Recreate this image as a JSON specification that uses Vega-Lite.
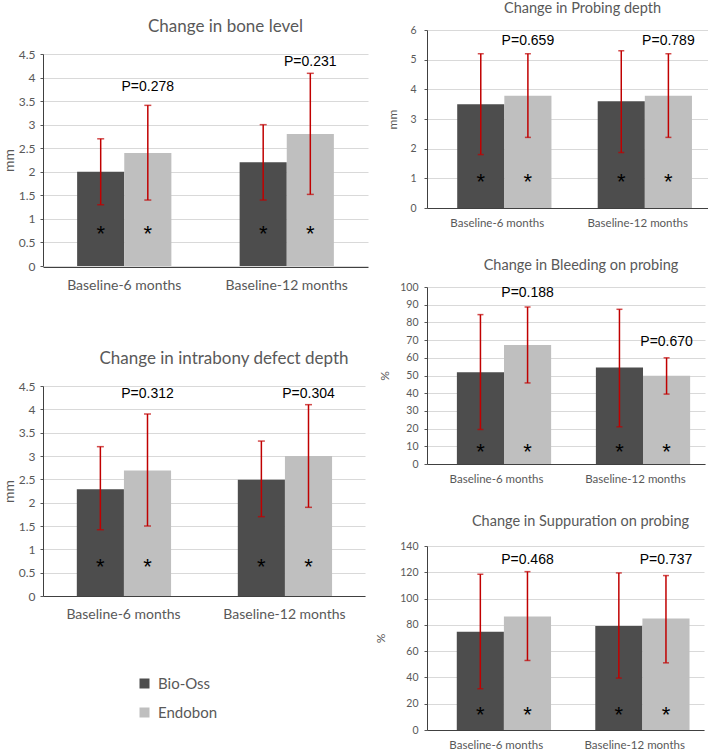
{
  "$schema": "https://vega.github.io/schema/vega-lite/v6.json",
  "padding": {"left": 2, "top": 1, "right": 0, "bottom": 0},
  "background": "white",
  "config": {
    "view": {"stroke": null},
    "font": "Lato",
    "title": {"font": "Lato", "fontWeight": "normal", "color": "#595959", "anchor": "middle"},
    "axis": {"labelFont": "Lato", "titleFont": "Lato", "labelColor": "#595959", "titleColor": "#595959", "titleFontWeight": "normal", "gridColor": "#d9d9d9", "domainColor": "#404040", "tickColor": "#595959"},
    "legend": {"labelFont": "Lato", "labelColor": "#595959"}
  },
  "datasets": {
    "bone": [
      {"period": "Baseline-6 months", "group": "Bio-Oss", "mean": 2.0, "lo": 1.3, "hi": 2.7, "star": 0.8, "sig": "*", "p": null, "py": null},
      {"period": "Baseline-6 months", "group": "Endobon", "mean": 2.4, "lo": 1.4, "hi": 3.41, "star": 0.8, "sig": "*", "p": "P=0.278", "py": 3.8},
      {"period": "Baseline-12 months", "group": "Bio-Oss", "mean": 2.2, "lo": 1.4, "hi": 3.0, "star": 0.8, "sig": "*", "p": null, "py": null},
      {"period": "Baseline-12 months", "group": "Endobon", "mean": 2.8, "lo": 1.52, "hi": 4.09, "star": 0.8, "sig": "*", "p": "P=0.231", "py": 4.33}
    ],
    "intra": [
      {"period": "Baseline-6 months", "group": "Bio-Oss", "mean": 2.29, "lo": 1.42, "hi": 3.2, "star": 0.75, "sig": "*", "p": null, "py": null},
      {"period": "Baseline-6 months", "group": "Endobon", "mean": 2.69, "lo": 1.5, "hi": 3.9, "star": 0.75, "sig": "*", "p": "P=0.312", "py": 4.33},
      {"period": "Baseline-12 months", "group": "Bio-Oss", "mean": 2.49, "lo": 1.7, "hi": 3.32, "star": 0.75, "sig": "*", "p": null, "py": null},
      {"period": "Baseline-12 months", "group": "Endobon", "mean": 3.0, "lo": 1.9, "hi": 4.1, "star": 0.75, "sig": "*", "p": "P=0.304", "py": 4.33}
    ],
    "probe": [
      {"period": "Baseline-6 months", "group": "Bio-Oss", "mean": 3.5, "lo": 1.8, "hi": 5.2, "star": 1.08, "sig": "*", "p": null, "py": null},
      {"period": "Baseline-6 months", "group": "Endobon", "mean": 3.78, "lo": 2.38, "hi": 5.2, "star": 1.08, "sig": "*", "p": "P=0.659", "py": 5.63},
      {"period": "Baseline-12 months", "group": "Bio-Oss", "mean": 3.6, "lo": 1.87, "hi": 5.3, "star": 1.08, "sig": "*", "p": null, "py": null},
      {"period": "Baseline-12 months", "group": "Endobon", "mean": 3.78, "lo": 2.38, "hi": 5.2, "star": 1.08, "sig": "*", "p": "P=0.789", "py": 5.63}
    ],
    "bleed": [
      {"period": "Baseline-6 months", "group": "Bio-Oss", "mean": 51.8, "lo": 19.5, "hi": 84.4, "star": 10.2, "sig": "*", "p": null, "py": null},
      {"period": "Baseline-6 months", "group": "Endobon", "mean": 67.2, "lo": 45.8, "hi": 88.7, "star": 10.2, "sig": "*", "p": "P=0.188", "py": 96.6},
      {"period": "Baseline-12 months", "group": "Bio-Oss", "mean": 54.5, "lo": 21.0, "hi": 87.4, "star": 10.2, "sig": "*", "p": null, "py": null},
      {"period": "Baseline-12 months", "group": "Endobon", "mean": 49.8, "lo": 39.5, "hi": 60.0, "star": 10.2, "sig": "*", "p": "P=0.670", "py": 68.9}
    ],
    "supp": [
      {"period": "Baseline-6 months", "group": "Bio-Oss", "mean": 74.7, "lo": 31.4, "hi": 118.5, "star": 16, "sig": "*", "p": null, "py": null},
      {"period": "Baseline-6 months", "group": "Endobon", "mean": 86.3, "lo": 52.9, "hi": 120.5, "star": 16, "sig": "*", "p": "P=0.468", "py": 129},
      {"period": "Baseline-12 months", "group": "Bio-Oss", "mean": 79.2, "lo": 39.5, "hi": 119.5, "star": 16, "sig": "*", "p": null, "py": null},
      {"period": "Baseline-12 months", "group": "Endobon", "mean": 84.8, "lo": 51.1, "hi": 117.5, "star": 16, "sig": "*", "p": "P=0.737", "py": 129}
    ]
  },
  "spacing": 6,
  "align": "none",
  "hconcat": [
    {
      "spacing": 58,
      "vconcat": [
        {
          "data": {"name": "bone"},
          "width": 325, "height": 237,
          "title": {"text": "Change in bone level", "fontSize": 17, "offset": 0, "dy": 6, "dx": 20},
          "encoding": {
            "x": {"field": "period", "type": "nominal", "sort": ["Baseline-6 months", "Baseline-12 months"], "scale": {"paddingInner": 0.42, "paddingOuter": 0.21}, "axis": {"title": null, "labelAngle": 0, "labelFontSize": 14, "ticks": false, "labelPadding": 11}},
            "xOffset": {"field": "group", "sort": ["Bio-Oss", "Endobon"], "scale": {"paddingInner": 0, "paddingOuter": 0}}
          },
          "layer": [
            {"mark": {"type": "bar"}, "encoding": {
              "y": {"field": "mean", "type": "quantitative", "title": "mm", "scale": {"domain": [0, 4.5], "range": [236, 24]}, "axis": {"values": [0, 0.5, 1, 1.5, 2, 2.5, 3, 3.5, 4, 4.5], "format": ".1~f", "labelFontSize": 12, "titleFontSize": 14, "tickSize": 3, "labelPadding": 5, "titlePadding": 2}},
              "color": {"field": "group", "type": "nominal", "scale": {"domain": ["Bio-Oss", "Endobon"], "range": ["#4d4d4d", "#bfbfbf"]}, "legend": {"title": null, "orient": "none", "legendX": 94, "legendY": 646, "symbolType": "square", "symbolSize": 100, "symbolStrokeWidth": 0, "labelFontSize": 15, "rowPadding": 13, "labelOffset": 6}}
            }},
            {"mark": {"type": "rule", "color": "#c00000", "strokeWidth": 1.5}, "encoding": {"y": {"field": "lo", "type": "quantitative", "title": "mm", "axis": {"values": [0, 0.5, 1, 1.5, 2, 2.5, 3, 3.5, 4, 4.5], "format": ".1~f", "labelFontSize": 12, "titleFontSize": 14, "tickSize": 3, "labelPadding": 5, "titlePadding": 2}}, "y2": {"field": "hi"}}},
            {"mark": {"type": "tick", "color": "#c00000", "thickness": 1.5, "size": 7}, "encoding": {"y": {"field": "lo", "type": "quantitative", "title": "mm", "axis": {"values": [0, 0.5, 1, 1.5, 2, 2.5, 3, 3.5, 4, 4.5], "format": ".1~f", "labelFontSize": 12, "titleFontSize": 14, "tickSize": 3, "labelPadding": 5, "titlePadding": 2}}}},
            {"mark": {"type": "tick", "color": "#c00000", "thickness": 1.5, "size": 7}, "encoding": {"y": {"field": "hi", "type": "quantitative", "title": "mm", "axis": {"values": [0, 0.5, 1, 1.5, 2, 2.5, 3, 3.5, 4, 4.5], "format": ".1~f", "labelFontSize": 12, "titleFontSize": 14, "tickSize": 3, "labelPadding": 5, "titlePadding": 2}}}},
            {"mark": {"type": "text", "font": "Liberation Sans", "fontSize": 22, "color": "black", "baseline": "middle", "dy": 6}, "encoding": {"y": {"field": "star", "type": "quantitative", "title": "mm", "axis": {"values": [0, 0.5, 1, 1.5, 2, 2.5, 3, 3.5, 4, 4.5], "format": ".1~f", "labelFontSize": 12, "titleFontSize": 14, "tickSize": 3, "labelPadding": 5, "titlePadding": 2}}, "text": {"field": "sig"}}},
            {"transform": [{"filter": "datum.p != null"}], "mark": {"type": "text", "font": "Liberation Sans", "fontSize": 14, "color": "black", "baseline": "middle"}, "encoding": {"y": {"field": "py", "type": "quantitative", "title": "mm", "axis": {"values": [0, 0.5, 1, 1.5, 2, 2.5, 3, 3.5, 4, 4.5], "format": ".1~f", "labelFontSize": 12, "titleFontSize": 14, "tickSize": 3, "labelPadding": 5, "titlePadding": 2}}, "text": {"field": "p"}}}
          ]
        },
        {
          "data": {"name": "intra"},
          "width": 322, "height": 210,
          "title": {"text": "Change in intrabony defect depth", "fontSize": 17, "offset": 12, "dx": 20},
          "encoding": {
            "x": {"field": "period", "type": "nominal", "sort": ["Baseline-6 months", "Baseline-12 months"], "scale": {"paddingInner": 0.42, "paddingOuter": 0.21}, "axis": {"title": null, "labelAngle": 0, "labelFontSize": 14, "ticks": false, "labelPadding": 11}},
            "xOffset": {"field": "group", "sort": ["Bio-Oss", "Endobon"], "scale": {"paddingInner": 0, "paddingOuter": 0}}
          },
          "layer": [
            {"mark": {"type": "bar"}, "encoding": {
              "y": {"field": "mean", "type": "quantitative", "title": "mm", "scale": {"domain": [0, 4.5]}, "axis": {"values": [0, 0.5, 1, 1.5, 2, 2.5, 3, 3.5, 4, 4.5], "format": ".1~f", "labelFontSize": 12, "titleFontSize": 14, "tickSize": 3, "labelPadding": 5, "titlePadding": 2}},
              "color": {"field": "group", "type": "nominal", "scale": {"domain": ["Bio-Oss", "Endobon"], "range": ["#4d4d4d", "#bfbfbf"]}}
            }},
            {"mark": {"type": "rule", "color": "#c00000", "strokeWidth": 1.5}, "encoding": {"y": {"field": "lo", "type": "quantitative", "title": "mm", "axis": {"values": [0, 0.5, 1, 1.5, 2, 2.5, 3, 3.5, 4, 4.5], "format": ".1~f", "labelFontSize": 12, "titleFontSize": 14, "tickSize": 3, "labelPadding": 5, "titlePadding": 2}}, "y2": {"field": "hi"}}},
            {"mark": {"type": "tick", "color": "#c00000", "thickness": 1.5, "size": 7}, "encoding": {"y": {"field": "lo", "type": "quantitative", "title": "mm", "axis": {"values": [0, 0.5, 1, 1.5, 2, 2.5, 3, 3.5, 4, 4.5], "format": ".1~f", "labelFontSize": 12, "titleFontSize": 14, "tickSize": 3, "labelPadding": 5, "titlePadding": 2}}}},
            {"mark": {"type": "tick", "color": "#c00000", "thickness": 1.5, "size": 7}, "encoding": {"y": {"field": "hi", "type": "quantitative", "title": "mm", "axis": {"values": [0, 0.5, 1, 1.5, 2, 2.5, 3, 3.5, 4, 4.5], "format": ".1~f", "labelFontSize": 12, "titleFontSize": 14, "tickSize": 3, "labelPadding": 5, "titlePadding": 2}}}},
            {"mark": {"type": "text", "font": "Liberation Sans", "fontSize": 22, "color": "black", "baseline": "middle", "dy": 6}, "encoding": {"y": {"field": "star", "type": "quantitative", "title": "mm", "axis": {"values": [0, 0.5, 1, 1.5, 2, 2.5, 3, 3.5, 4, 4.5], "format": ".1~f", "labelFontSize": 12, "titleFontSize": 14, "tickSize": 3, "labelPadding": 5, "titlePadding": 2}}, "text": {"field": "sig"}}},
            {"transform": [{"filter": "datum.p != null"}], "mark": {"type": "text", "font": "Liberation Sans", "fontSize": 14, "color": "black", "baseline": "middle"}, "encoding": {"y": {"field": "py", "type": "quantitative", "title": "mm", "axis": {"values": [0, 0.5, 1, 1.5, 2, 2.5, 3, 3.5, 4, 4.5], "format": ".1~f", "labelFontSize": 12, "titleFontSize": 14, "tickSize": 3, "labelPadding": 5, "titlePadding": 2}}, "text": {"field": "p"}}}
          ]
        }
      ]
    },
    {
      "spacing": 29,
      "vconcat": [
        {
          "data": {"name": "probe"},
          "width": 281, "height": 178,
          "title": {"text": "Change in Probing depth", "fontSize": 14.5, "offset": 8.5, "dx": 15},
          "encoding": {
            "x": {"field": "period", "type": "nominal", "sort": ["Baseline-6 months", "Baseline-12 months"], "scale": {"paddingInner": 0.43, "paddingOuter": 0.215}, "axis": {"title": null, "labelAngle": 0, "labelFontSize": 11.5, "ticks": false, "labelPadding": 9}},
            "xOffset": {"field": "group", "sort": ["Bio-Oss", "Endobon"], "scale": {"paddingInner": 0, "paddingOuter": 0}}
          },
          "layer": [
            {"mark": {"type": "bar"}, "encoding": {
              "y": {"field": "mean", "type": "quantitative", "title": "mm", "scale": {"domain": [0, 6]}, "axis": {"values": [0, 1, 2, 3, 4, 5, 6], "format": ".1~f", "labelFontSize": 10.5, "titleFontSize": 12, "tickSize": 3, "labelPadding": 8, "titlePadding": 10}},
              "color": {"field": "group", "type": "nominal", "scale": {"domain": ["Bio-Oss", "Endobon"], "range": ["#4d4d4d", "#bfbfbf"]}}
            }},
            {"mark": {"type": "rule", "color": "#c00000", "strokeWidth": 1.5}, "encoding": {"y": {"field": "lo", "type": "quantitative", "title": "mm", "axis": {"values": [0, 1, 2, 3, 4, 5, 6], "format": ".1~f", "labelFontSize": 10.5, "titleFontSize": 12, "tickSize": 3, "labelPadding": 8, "titlePadding": 10}}, "y2": {"field": "hi"}}},
            {"mark": {"type": "tick", "color": "#c00000", "thickness": 1.5, "size": 6}, "encoding": {"y": {"field": "lo", "type": "quantitative", "title": "mm", "axis": {"values": [0, 1, 2, 3, 4, 5, 6], "format": ".1~f", "labelFontSize": 10.5, "titleFontSize": 12, "tickSize": 3, "labelPadding": 8, "titlePadding": 10}}}},
            {"mark": {"type": "tick", "color": "#c00000", "thickness": 1.5, "size": 6}, "encoding": {"y": {"field": "hi", "type": "quantitative", "title": "mm", "axis": {"values": [0, 1, 2, 3, 4, 5, 6], "format": ".1~f", "labelFontSize": 10.5, "titleFontSize": 12, "tickSize": 3, "labelPadding": 8, "titlePadding": 10}}}},
            {"mark": {"type": "text", "font": "Liberation Sans", "fontSize": 22, "color": "black", "baseline": "middle", "dy": 6}, "encoding": {"y": {"field": "star", "type": "quantitative", "title": "mm", "axis": {"values": [0, 1, 2, 3, 4, 5, 6], "format": ".1~f", "labelFontSize": 10.5, "titleFontSize": 12, "tickSize": 3, "labelPadding": 8, "titlePadding": 10}}, "text": {"field": "sig"}}},
            {"transform": [{"filter": "datum.p != null"}], "mark": {"type": "text", "font": "Liberation Sans", "fontSize": 14, "color": "black", "baseline": "middle"}, "encoding": {"y": {"field": "py", "type": "quantitative", "title": "mm", "axis": {"values": [0, 1, 2, 3, 4, 5, 6], "format": ".1~f", "labelFontSize": 10.5, "titleFontSize": 12, "tickSize": 3, "labelPadding": 8, "titlePadding": 10}}, "text": {"field": "p"}}}
          ]
        },
        {
          "data": {"name": "bleed"},
          "width": 278, "height": 177,
          "title": {"text": "Change in Bleeding on probing", "fontSize": 14.5, "offset": 8.5, "dx": 15},
          "encoding": {
            "x": {"field": "period", "type": "nominal", "sort": ["Baseline-6 months", "Baseline-12 months"], "scale": {"paddingInner": 0.43, "paddingOuter": 0.215}, "axis": {"title": null, "labelAngle": 0, "labelFontSize": 11.5, "ticks": false, "labelPadding": 9}},
            "xOffset": {"field": "group", "sort": ["Bio-Oss", "Endobon"], "scale": {"paddingInner": 0, "paddingOuter": 0}}
          },
          "layer": [
            {"mark": {"type": "bar"}, "encoding": {
              "y": {"field": "mean", "type": "quantitative", "title": "%", "scale": {"domain": [0, 100]}, "axis": {"values": [0, 10, 20, 30, 40, 50, 60, 70, 80, 90, 100], "format": ".1~f", "labelFontSize": 10.5, "titleFontSize": 12, "tickSize": 3, "labelPadding": 6, "titlePadding": 8}},
              "color": {"field": "group", "type": "nominal", "scale": {"domain": ["Bio-Oss", "Endobon"], "range": ["#4d4d4d", "#bfbfbf"]}}
            }},
            {"mark": {"type": "rule", "color": "#c00000", "strokeWidth": 1.5}, "encoding": {"y": {"field": "lo", "type": "quantitative", "title": "%", "axis": {"values": [0, 10, 20, 30, 40, 50, 60, 70, 80, 90, 100], "format": ".1~f", "labelFontSize": 10.5, "titleFontSize": 12, "tickSize": 3, "labelPadding": 6, "titlePadding": 8}}, "y2": {"field": "hi"}}},
            {"mark": {"type": "tick", "color": "#c00000", "thickness": 1.5, "size": 6}, "encoding": {"y": {"field": "lo", "type": "quantitative", "title": "%", "axis": {"values": [0, 10, 20, 30, 40, 50, 60, 70, 80, 90, 100], "format": ".1~f", "labelFontSize": 10.5, "titleFontSize": 12, "tickSize": 3, "labelPadding": 6, "titlePadding": 8}}}},
            {"mark": {"type": "tick", "color": "#c00000", "thickness": 1.5, "size": 6}, "encoding": {"y": {"field": "hi", "type": "quantitative", "title": "%", "axis": {"values": [0, 10, 20, 30, 40, 50, 60, 70, 80, 90, 100], "format": ".1~f", "labelFontSize": 10.5, "titleFontSize": 12, "tickSize": 3, "labelPadding": 6, "titlePadding": 8}}}},
            {"mark": {"type": "text", "font": "Liberation Sans", "fontSize": 22, "color": "black", "baseline": "middle", "dy": 6}, "encoding": {"y": {"field": "star", "type": "quantitative", "title": "%", "axis": {"values": [0, 10, 20, 30, 40, 50, 60, 70, 80, 90, 100], "format": ".1~f", "labelFontSize": 10.5, "titleFontSize": 12, "tickSize": 3, "labelPadding": 6, "titlePadding": 8}}, "text": {"field": "sig"}}},
            {"transform": [{"filter": "datum.p != null"}], "mark": {"type": "text", "font": "Liberation Sans", "fontSize": 14, "color": "black", "baseline": "middle"}, "encoding": {"y": {"field": "py", "type": "quantitative", "title": "%", "axis": {"values": [0, 10, 20, 30, 40, 50, 60, 70, 80, 90, 100], "format": ".1~f", "labelFontSize": 10.5, "titleFontSize": 12, "tickSize": 3, "labelPadding": 6, "titlePadding": 8}}, "text": {"field": "p"}}}
          ]
        },
        {
          "data": {"name": "supp"},
          "width": 277, "height": 184,
          "title": {"text": "Change in Suppuration on probing", "fontSize": 14.5, "offset": 11.5, "dx": 15},
          "encoding": {
            "x": {"field": "period", "type": "nominal", "sort": ["Baseline-6 months", "Baseline-12 months"], "scale": {"paddingInner": 0.43, "paddingOuter": 0.215}, "axis": {"title": null, "labelAngle": 0, "labelFontSize": 11.5, "ticks": false, "labelPadding": 9}},
            "xOffset": {"field": "group", "sort": ["Bio-Oss", "Endobon"], "scale": {"paddingInner": 0, "paddingOuter": 0}}
          },
          "layer": [
            {"mark": {"type": "bar"}, "encoding": {
              "y": {"field": "mean", "type": "quantitative", "title": "%", "scale": {"domain": [0, 140]}, "axis": {"values": [0, 20, 40, 60, 80, 100, 120, 140], "format": ".1~f", "labelFontSize": 10.5, "titleFontSize": 12, "tickSize": 3, "labelPadding": 6, "titlePadding": 12}},
              "color": {"field": "group", "type": "nominal", "scale": {"domain": ["Bio-Oss", "Endobon"], "range": ["#4d4d4d", "#bfbfbf"]}}
            }},
            {"mark": {"type": "rule", "color": "#c00000", "strokeWidth": 1.5}, "encoding": {"y": {"field": "lo", "type": "quantitative", "title": "%", "axis": {"values": [0, 20, 40, 60, 80, 100, 120, 140], "format": ".1~f", "labelFontSize": 10.5, "titleFontSize": 12, "tickSize": 3, "labelPadding": 6, "titlePadding": 12}}, "y2": {"field": "hi"}}},
            {"mark": {"type": "tick", "color": "#c00000", "thickness": 1.5, "size": 6}, "encoding": {"y": {"field": "lo", "type": "quantitative", "title": "%", "axis": {"values": [0, 20, 40, 60, 80, 100, 120, 140], "format": ".1~f", "labelFontSize": 10.5, "titleFontSize": 12, "tickSize": 3, "labelPadding": 6, "titlePadding": 12}}}},
            {"mark": {"type": "tick", "color": "#c00000", "thickness": 1.5, "size": 6}, "encoding": {"y": {"field": "hi", "type": "quantitative", "title": "%", "axis": {"values": [0, 20, 40, 60, 80, 100, 120, 140], "format": ".1~f", "labelFontSize": 10.5, "titleFontSize": 12, "tickSize": 3, "labelPadding": 6, "titlePadding": 12}}}},
            {"mark": {"type": "text", "font": "Liberation Sans", "fontSize": 22, "color": "black", "baseline": "middle", "dy": 6}, "encoding": {"y": {"field": "star", "type": "quantitative", "title": "%", "axis": {"values": [0, 20, 40, 60, 80, 100, 120, 140], "format": ".1~f", "labelFontSize": 10.5, "titleFontSize": 12, "tickSize": 3, "labelPadding": 6, "titlePadding": 12}}, "text": {"field": "sig"}}},
            {"transform": [{"filter": "datum.p != null"}], "mark": {"type": "text", "font": "Liberation Sans", "fontSize": 14, "color": "black", "baseline": "middle"}, "encoding": {"y": {"field": "py", "type": "quantitative", "title": "%", "axis": {"values": [0, 20, 40, 60, 80, 100, 120, 140], "format": ".1~f", "labelFontSize": 10.5, "titleFontSize": 12, "tickSize": 3, "labelPadding": 6, "titlePadding": 12}}, "text": {"field": "p"}}}
          ]
        }
      ]
    }
  ]
}
